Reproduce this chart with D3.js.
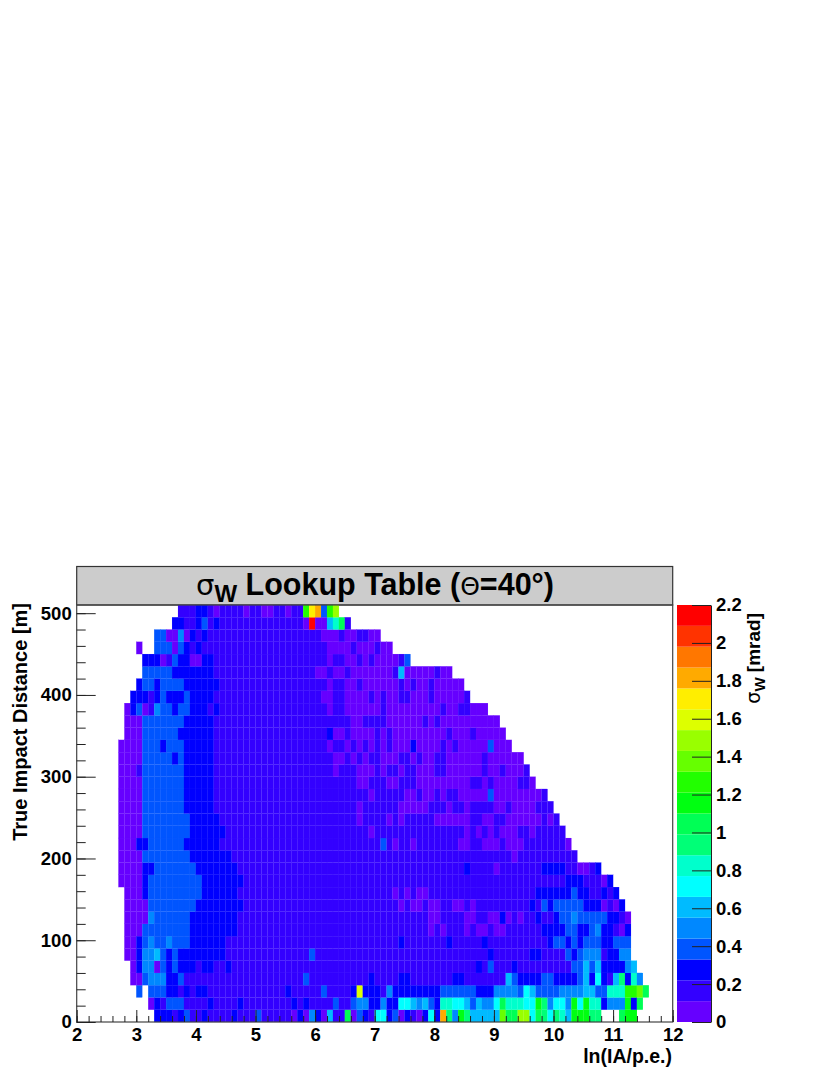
<!DOCTYPE html>
<html>
<head>
<meta charset="utf-8">
<script src="https://cdnjs.cloudflare.com/ajax/libs/d3/7.8.5/d3.min.js"></script>
<style>
body { margin: 0; background: #fff; }
text { font-family: "Liberation Sans", sans-serif; font-weight: bold; fill: #000; }
.axis path, .axis line { stroke: #222; stroke-width: 1; }
.axis text { font-size: 18.5px; font-family: "Liberation Sans", sans-serif; font-weight: bold; }
</style>
</head>
<body>
<div id="chart"></div>
<script>
// palette bands of the z axis, bottom to top
var bandColors = ["#6600ff","#3300ff","#0000ff","#0055ff","#0088ff","#00bbff","#00ffff","#00ffcc","#00ff77","#00ff55",
    "#00ff11","#22ff00","#66ff00","#99ff00","#ddff00","#ffee00","#ffaa00","#ff7700","#ff3300","#ff0000"];
var zTicks = [0,0.2,0.4,0.6,0.8,1,1.2,1.4,1.6,1.8,2,2.2];
var xTicks = [2,3,4,5,6,7,8,9,10,11,12];
var yTicks = [0,100,200,300,400,500];

// first filled column of each row (column = 0.1 in ln(IA/p.e.), from 2), row 0 = 0-15 m
var rowStart = [13,12,10,9,9,8,8,8,8,8,8,7,7,7,7,7,7,7,7,7,7,7,7,8,8,8,9,10,11,11,10,13,16,17];

// sigma band per cell
var row00 = [2,2,2,1,2,3,1,1,2,1,1,1,1,2,1,1,1,3,1,1,1,1,1,0,2,0,4,2,0,5,1,1,9,0,3,2,1,6,6,2,3,0,2,1,0,2,6,2,16,8,4,10,8,5,5,5,5,5,12,9,9,13,13,6,9,8,6,8,7,5,10,10,10,8,8,null,null,null,9,10,10];
var row01 = [0,2,1,3,3,3,1,1,1,1,2,1,1,1,1,2,1,1,1,1,1,1,1,1,2,1,2,1,1,1,1,3,1,1,3,4,4,2,2,4,2,2,6,6,5,4,5,3,2,7,7,6,6,5,3,5,4,4,6,9,7,7,7,6,6,10,8,4,6,6,4,10,6,10,7,7,2,4,4,4,10,2,9];
var row02 = [3,null,3,3,3,2,2,1,2,1,2,2,1,1,1,1,1,1,1,1,1,1,1,1,1,2,1,1,1,1,1,3,1,1,1,1,2,14,2,2,2,1,4,2,2,2,2,2,2,2,2,3,3,3,3,3,3,2,2,2,4,4,4,4,3,6,5,3,3,3,3,4,4,4,4,5,5,3,3,7,7,7,11,11,12,9];
var row03 = [0,0,3,4,4,4,2,2,3,1,1,1,1,1,1,1,1,1,1,1,1,1,1,1,1,1,1,1,1,3,1,1,1,1,1,1,1,1,1,1,2,1,1,1,1,2,2,1,1,1,1,1,1,1,2,2,1,1,1,1,1,1,1,5,3,2,2,2,2,3,3,2,2,2,2,3,5,2,6,2,1,5,8,2,7,4];
var row04 = [0,2,4,4,0,3,2,3,2,2,2,1,2,2,1,1,2,1,1,1,1,1,1,1,1,1,1,1,1,1,1,1,1,1,1,1,1,1,1,1,1,1,1,1,1,1,1,1,1,1,1,1,1,1,1,1,1,1,2,1,3,1,1,1,2,1,1,1,1,1,1,1,1,1,3,3,5,3,5,2,2,2,2,4,5];
var row05 = [0,0,2,4,4,5,3,2,3,2,2,2,2,2,2,2,2,1,1,1,1,1,1,1,1,1,1,1,1,1,1,3,1,1,1,1,1,1,1,1,1,1,1,1,1,1,1,1,1,1,1,1,1,1,1,1,1,1,1,1,1,2,1,1,1,1,1,1,2,2,1,1,1,1,3,2,3,4,4,4,1,2,2,4,4];
var row06 = [0,0,2,3,4,3,3,4,3,3,3,2,2,2,2,2,2,1,1,1,1,1,1,1,1,1,1,1,1,1,1,1,1,1,1,1,1,1,1,1,1,1,1,1,1,1,2,1,1,1,1,1,1,1,2,1,1,1,1,1,2,1,1,1,1,1,1,1,1,1,1,2,3,3,2,3,2,3,3,3,2,2,3,3,3];
var row07 = [0,0,0,3,3,3,3,3,3,3,3,2,2,2,2,2,2,2,2,1,1,1,1,1,1,1,1,1,1,1,1,1,1,1,1,1,1,1,1,1,1,1,1,1,1,1,1,1,1,1,1,0,1,0,1,1,1,0,1,0,0,1,0,0,1,1,1,1,1,1,2,2,2,2,3,3,2,2,3,4,2,2,1,0,2];
var row08 = [0,0,0,0,4,3,3,3,3,3,3,2,2,2,2,2,2,2,2,1,1,1,1,1,1,1,1,1,1,1,1,1,1,1,1,1,1,1,1,1,1,1,1,1,1,1,1,1,1,1,1,0,0,1,1,1,1,0,0,1,1,0,0,2,0,1,0,1,1,2,1,1,2,3,3,4,3,3,3,3,3,2,2,1,0];
var row09 = [0,0,0,0,3,3,3,3,3,3,3,3,2,2,2,2,2,2,2,2,1,1,1,1,1,1,1,1,1,1,1,1,1,1,1,1,1,1,1,1,1,1,1,1,1,1,0,1,0,0,1,0,0,1,1,0,0,1,0,1,1,1,1,1,1,1,1,1,2,1,3,2,3,3,3,3,3,2,2,2,0,1,0,2];
var row10 = [0,0,0,2,3,3,3,3,3,3,3,3,3,2,2,2,2,2,2,1,1,1,1,1,1,1,1,1,1,1,1,1,1,1,1,1,1,1,1,1,1,1,1,1,1,0,1,0,1,0,0,1,1,1,1,1,1,1,1,1,1,1,1,1,1,1,1,1,1,2,2,2,2,2,2,3,2,2,1,1,2,1,2];
var row11 = [0,0,0,0,2,3,3,3,3,3,3,3,3,3,2,2,2,2,2,2,2,1,1,1,1,1,1,1,1,1,1,1,1,1,1,1,1,1,1,1,1,1,1,1,1,1,1,1,1,1,1,1,1,1,1,1,1,1,1,1,1,1,1,1,1,1,1,1,1,1,1,1,1,1,1,2,2,2,1,1,1,0,2];
var row12 = [0,0,0,0,2,2,3,3,3,3,3,3,3,2,2,2,2,2,2,2,1,1,1,1,1,1,1,1,1,1,1,1,1,1,1,1,1,1,1,1,1,1,1,1,1,1,1,1,1,1,1,1,1,1,1,1,1,1,2,1,1,1,1,0,1,1,1,1,1,1,1,2,2,2,2,1,1,0,0,1,2];
var row13 = [0,0,0,0,3,3,3,3,3,3,3,3,2,2,2,2,2,2,2,1,1,1,1,1,1,1,1,1,1,1,1,1,1,1,1,1,1,1,1,1,1,1,1,1,1,1,1,1,1,1,1,1,1,1,1,1,1,1,1,1,1,1,1,1,1,1,0,1,1,1,1,1,1,1,1,1,1];
var row14 = [0,0,0,2,2,3,3,3,3,3,3,2,2,2,2,2,2,1,1,1,1,1,1,1,1,1,1,1,1,1,1,1,1,1,1,1,1,1,1,1,1,1,1,1,3,1,0,1,1,0,1,1,1,1,1,1,1,0,0,1,1,0,0,0,1,0,0,0,1,1,1,1,1,1,1,0];
var row15 = [0,0,0,0,3,3,3,3,3,3,3,3,2,2,2,2,2,2,1,1,1,1,1,1,1,1,1,1,1,1,1,1,1,1,1,1,1,1,1,1,1,1,0,1,1,1,1,1,1,1,1,1,1,1,1,1,1,1,0,1,0,1,0,1,0,0,0,1,1,0,1,1,1,1,1];
var row16 = [0,0,0,0,3,3,3,3,3,3,3,3,2,2,2,2,2,1,1,1,1,1,1,1,1,1,1,1,1,1,1,1,1,1,1,1,1,1,1,1,0,1,1,1,1,0,1,0,1,1,1,1,1,0,0,0,0,0,0,1,1,0,0,1,1,0,0,0,0,0,0,1,0,1];
var row17 = [0,0,0,0,3,3,3,3,3,3,3,2,2,2,2,2,1,1,1,1,1,1,1,1,1,1,1,1,1,1,1,1,1,1,1,1,1,1,1,1,0,1,1,1,1,1,1,0,0,0,0,0,1,1,1,0,1,1,0,1,1,1,1,0,0,1,0,0,0,0,1,1,1];
var row18 = [0,0,0,0,3,3,3,3,3,3,3,2,2,2,2,2,1,1,1,1,1,1,1,1,1,1,1,1,1,1,1,1,1,1,1,1,1,1,1,1,1,1,0,1,1,1,1,1,0,0,1,0,0,1,0,1,1,0,0,0,0,0,3,0,0,0,0,0,0,0,0,1];
var row19 = [0,0,0,0,3,3,3,3,3,3,3,2,2,2,2,2,1,1,1,1,1,1,1,1,1,1,1,1,1,1,1,1,1,1,1,1,1,1,1,1,0,0,1,1,1,0,0,1,1,1,0,0,0,0,0,0,0,0,0,1,1,0,1,0,0,0,0,1,1,0];
var row20 = [0,0,0,1,3,3,3,3,3,3,3,2,2,2,2,2,1,1,1,1,1,1,1,1,1,1,1,1,1,1,1,1,1,1,1,1,0,1,1,1,0,0,0,1,0,1,1,0,1,1,0,0,0,1,1,0,0,0,0,0,0,1,0,0,1,0,0,0,1];
var row21 = [0,0,0,0,3,3,3,3,3,2,3,2,2,2,2,2,1,1,1,1,1,1,1,1,1,1,1,1,1,1,1,1,1,1,1,1,0,0,1,0,1,0,1,1,0,0,0,1,1,0,1,0,0,1,1,0,0,0,0,0,0,1,0,0,0,0,0,0];
var row22 = [0,0,0,0,3,3,3,2,3,3,3,2,2,2,2,2,1,1,1,1,1,1,1,1,1,1,1,1,1,1,1,1,1,1,1,0,1,1,0,1,0,1,0,1,0,1,0,0,0,2,0,0,0,0,1,0,1,0,0,0,0,0,3,0,0,0];
var row23 = [0,0,0,3,3,3,3,3,3,2,2,2,2,2,2,1,1,1,1,1,1,1,1,1,1,1,1,1,1,1,1,1,1,1,2,0,0,1,0,0,0,0,1,0,1,0,0,0,0,0,0,0,0,0,1,0,0,0,1,0,0,0,0,0];
var row24 = [0,0,0,3,3,3,3,3,3,3,2,2,2,2,2,1,1,1,1,1,1,1,1,1,1,1,1,1,1,1,1,1,1,1,1,1,1,1,0,0,1,1,1,1,0,0,0,0,0,0,1,0,1,0,0,0,0,0,0,0,0,0,0];
var row25 = [0,2,3,0,1,4,3,3,2,3,3,2,2,2,1,2,1,1,1,1,1,1,1,1,1,1,1,1,1,1,1,1,1,1,0,1,1,0,0,0,0,0,0,1,0,0,0,0,0,0,0,0,0,1,0,0,1,1,0,0,0];
var row26 = [2,2,2,1,2,3,2,2,2,3,2,2,2,2,1,1,1,1,1,1,1,1,1,1,1,1,1,1,1,1,1,1,0,0,1,1,0,0,0,0,1,0,1,0,0,1,1,0,0,0,1,0,0,0,0,0,1];
var row27 = [2,3,3,2,3,3,3,3,2,2,2,2,2,2,1,1,1,1,1,1,1,1,1,1,1,1,1,1,1,1,1,1,0,1,1,0,0,1,0,0,0,0,0,0,1,0,1,0,0,1,0,0,0,0,0];
var row28 = [3,3,3,3,3,2,2,2,2,2,2,2,1,1,1,1,1,1,1,1,1,1,1,1,1,1,1,1,1,0,0,1,0,0,1,0,0,0,0,0,0,0,1,5,0,0,0,0,0,1,0,0];
var row29 = [2,2,2,0,1,3,2,2,0,0,2,2,1,1,1,1,1,1,1,1,1,1,1,1,1,1,1,1,1,1,1,0,1,1,0,0,1,0,1,0,0,0,0,1,3];
var row30 = [0,null,null,3,3,3,0,3,2,1,2,1,1,1,1,1,1,1,1,1,1,1,1,1,1,1,1,1,1,1,1,1,0,0,0,0,1,0,0,0,1,0,0];
var row31 = [3,3,0,0,4,0,2,1,2,1,1,1,1,1,1,1,1,1,1,1,1,1,1,1,1,1,1,1,0,0,0,1,0,0,1,1,0,0];
var row32 = [2,2,1,1,2,3,1,2,1,1,1,1,1,1,1,1,1,1,1,1,1,1,0,19,0,0,5,7,9,1];
var row33 = [1,1,1,2,2,1,0,1,1,1,1,0,1,1,0,0,1,1,0,1,1,11,15,16,3,11,13];

var rowLevels = [row00,row01,row02,row03,row04,row05,row06,row07,row08,row09,row10,row11,row12,row13,row14,row15,row16,
    row17,row18,row19,row20,row21,row22,row23,row24,row25,row26,row27,row28,row29,row30,row31,row32,row33];

var xBin = 0.1, yBin = 15, zBand = 0.11;

var cells = [];
rowLevels.forEach(function(levels, r){
    levels.forEach(function(band, i){
        if(band === null) return;
        cells.push({x0: 2 + (rowStart[r] + i) * xBin, y0: r * yBin, band: band});
    });
});

var svg = d3.select("#chart").append("svg").attr("width", 830).attr("height", 1075);

var x = d3.scaleLinear().domain([2, 12]).range([76.7, 672.7]);
var y = d3.scaleLinear().domain([0, 510]).range([1022, 605]);
var z = d3.scaleLinear().domain([0, 2.2]).range([1022, 605]);

//title box
svg.append("rect")
    .attr("x", x(2)).attr("y", 566.5)
    .attr("width", x(12) - x(2)).attr("height", 38.5)
    .attr("fill", "#cccccc").attr("stroke", "#333").attr("stroke-width", 1.2);

var title = svg.append("text")
    .attr("x", 375).attr("y", 595)
    .attr("text-anchor", "middle")
    .style("font-size", "30.5px");
title.append("tspan").style("font-family", "'DejaVu Sans'").style("font-weight", "normal").style("font-size", "29px").text("σ");
title.append("tspan").attr("dy", 7).style("font-size", "24px").text("W");
title.append("tspan").attr("dy", -7).text(" Lookup Table (");
title.append("tspan").style("font-family", "'DejaVu Sans'").style("font-weight", "normal").style("font-size", "25px").text("Θ");
title.append("tspan").text("=40°)");

//heatmap, thin stroke so the cell seams stay faint
svg.append("g").selectAll("rect")
    .data(cells)
    .enter()
    .append("rect")
    .attr("x", function(d){ return x(d.x0); })
    .attr("y", function(d){ return y(d.y0 + yBin); })
    .attr("width", function(d){ return x(d.x0 + xBin) - x(d.x0); })
    .attr("height", function(d){ return y(d.y0) - y(d.y0 + yBin); })
    .attr("fill", function(d){ return bandColors[d.band]; })
    .attr("stroke", function(d){ return bandColors[d.band]; })
    .attr("stroke-width", 0.15);

//frame
svg.append("rect")
    .attr("x", x(2)).attr("y", y(510))
    .attr("width", x(12) - x(2)).attr("height", y(0) - y(510))
    .attr("fill", "none").attr("stroke", "#444").attr("stroke-width", 1.2);

//axes
var xMinor = d3.range(2, 12.01, 0.2);
svg.append("g").attr("class", "axis")
    .attr("transform", "translate(0," + y(0) + ")")
    .call(d3.axisBottom(x).tickValues(xMinor).tickSize(-6).tickFormat(""))
    .call(function(g){ g.select(".domain").remove(); });
svg.append("g").attr("class", "axis")
    .attr("transform", "translate(0," + y(0) + ")")
    .call(d3.axisBottom(x).tickValues(xTicks).tickSize(-12).tickPadding(6).tickFormat(d3.format("d")))
    .call(function(g){ g.select(".domain").remove(); });

var yMinor = d3.range(0, 501, 20);
svg.append("g").attr("class", "axis")
    .attr("transform", "translate(" + x(2) + ",0)")
    .call(d3.axisLeft(y).tickValues(yMinor).tickSize(-9).tickFormat(""))
    .call(function(g){ g.select(".domain").remove(); });
svg.append("g").attr("class", "axis")
    .attr("transform", "translate(" + x(2) + ",0)")
    .call(d3.axisLeft(y).tickValues(yTicks).tickSize(-19).tickPadding(5).tickFormat(d3.format("d")))
    .call(function(g){ g.select(".domain").remove(); });

svg.append("text")
    .attr("x", 672).attr("y", 1063)
    .attr("text-anchor", "end")
    .style("font-size", "19.5px")
    .text("ln(IA/p.e.)");

svg.append("text")
    .attr("transform", "translate(27,603) rotate(-90)")
    .attr("text-anchor", "end")
    .style("font-size", "20px")
    .text("True Impact Distance [m]");

//palette
svg.append("g").selectAll("rect")
    .data(bandColors)
    .enter()
    .append("rect")
    .attr("x", 677)
    .attr("y", function(d, i){ return z((i + 1) * zBand); })
    .attr("width", 34)
    .attr("height", function(d, i){ return z(i * zBand) - z((i + 1) * zBand); })
    .attr("fill", function(d){ return d; });

svg.append("g").attr("class", "axis")
    .attr("transform", "translate(711,0)")
    .call(d3.axisRight(z).tickValues(zTicks).tickSize(-19).tickSizeOuter(0).tickPadding(5).tickFormat(d3.format("")))
    .call(function(g){ g.selectAll(".tick text").attr("x", 5); });

var zTitle = svg.append("text")
    .attr("transform", "translate(760,613) rotate(-90)")
    .attr("text-anchor", "end")
    .style("font-size", "19px");
zTitle.append("tspan").style("font-family", "'DejaVu Sans'").style("font-weight", "normal").text("σ");
zTitle.append("tspan").attr("dy", 5).style("font-size", "15px").text("W");
zTitle.append("tspan").attr("dy", -5).text(" [mrad]");
</script>
</body>
</html>
